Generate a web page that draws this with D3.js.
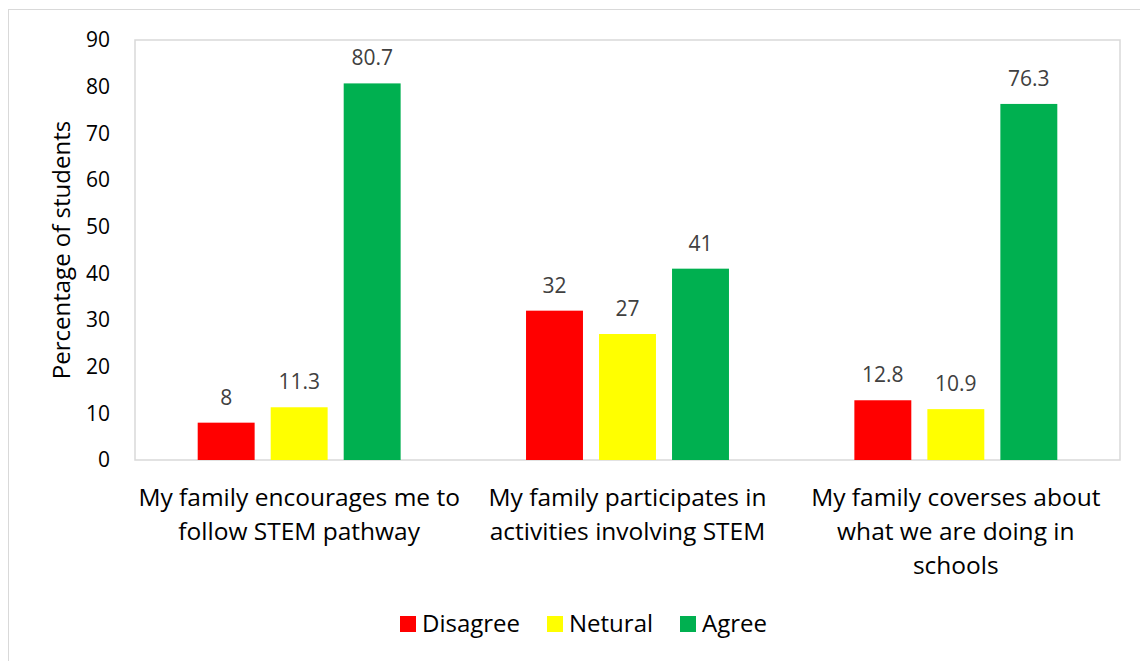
<!DOCTYPE html>
<html>
<head>
<meta charset="utf-8">
<script src="https://cdn.jsdelivr.net/npm/d3@7"></script>
<style>
  body { margin: 0; background: #fff; }
  svg { display: block; font-family: "Open Sans", sans-serif; }
</style>
</head>
<body>
<svg id="chart" width="1140" height="661"></svg>
<script>
'use strict';

const categories = [
    ['My family encourages me to', 'follow STEM pathway'],
    ['My family participates in', 'activities involving STEM'],
    ['My family coverses about', 'what we are doing in', 'schools']
];
const seriesNames = ['Disagree', 'Netural', 'Agree'];
const disagree = [8, 32, 12.8];
const netural = [11.3, 27, 10.9];
const agree = [80.7, 41, 76.3];
const yTicks = [0, 10, 20, 30, 40, 50, 60, 70, 80, 90];
const colors = ['#ff0000', '#ffff00', '#00b050'];

const series = [disagree, netural, agree];
const svg = d3.select('#chart');
const margin = { left: 135, right: 20, top: 40, bottom: 201 };
const width = 1140 - margin.left - margin.right;
const height = 661 - margin.top - margin.bottom;

// outer frame
svg.append('rect')
    .attr('x', 8.5).attr('y', 9.5)
    .attr('width', 1140).attr('height', 700)
    .attr('fill', 'none').attr('stroke', '#d9d9d9');

const g = svg.append('g').attr('transform', `translate(${margin.left},${margin.top})`);

const x0 = d3.scaleBand().domain(d3.range(categories.length)).range([0, width]);
const cluster = 219;
const x1 = d3.scaleBand().domain(d3.range(seriesNames.length))
    .range([x0.bandwidth() / 2 - cluster / 2, x0.bandwidth() / 2 + cluster / 2])
    .paddingInner(0.22).paddingOuter(0.11);
const y = d3.scaleLinear().domain([0, 90]).range([height, 0]);

// plot border
g.append('rect')
    .attr('x', 0).attr('y', 0)
    .attr('width', width).attr('height', height)
    .attr('fill', 'none').attr('stroke', '#d9d9d9').attr('stroke-width', 1.5);

// y axis
const yAxis = g.append('g')
    .call(d3.axisLeft(y).tickValues(yTicks).tickSize(0).tickPadding(25));
yAxis.select('.domain').remove();
yAxis.selectAll('text')
    .attr('font-size', 21)
    .attr('fill', '#000')
    .attr('font-family', '"Open Sans", sans-serif');

g.append('text')
    .attr('transform', `translate(${62 - margin.left},${height / 2}) rotate(-90)`)
    .attr('text-anchor', 'middle')
    .attr('dy', '0.35em')
    .attr('font-size', 24)
    .text('Percentage of students');

// bars
categories.forEach((cat, ci) => {
    const cg = g.append('g').attr('transform', `translate(${x0(ci)},0)`);
    series.forEach((vals, si) => {
        cg.append('rect')
            .attr('x', x1(si))
            .attr('y', y(vals[ci]))
            .attr('width', x1.bandwidth())
            .attr('height', height - y(vals[ci]))
            .attr('fill', colors[si]);
        cg.append('text')
            .attr('x', x1(si) + x1.bandwidth() / 2)
            .attr('y', y(vals[ci]) - 18)
            .attr('text-anchor', 'middle')
            .attr('font-size', 21)
            .attr('fill', '#404040')
            .text(vals[ci]);
    });

    const label = cg.append('text')
        .attr('text-anchor', 'middle')
        .attr('font-size', 24.5)
        .attr('fill', '#000');
    cat.forEach((line, li) => {
        label.append('tspan')
            .attr('x', x0.bandwidth() / 2)
            .attr('y', height + 46 + li * 34)
            .text(line);
    });
});

// legend
const legendX = [400, 547, 680];
const legend = svg.append('g');
seriesNames.forEach((name, i) => {
    legend.append('rect')
        .attr('x', legendX[i]).attr('y', 616)
        .attr('width', 16).attr('height', 16)
        .attr('fill', colors[i]);
    legend.append('text')
        .attr('x', legendX[i] + 22).attr('y', 624)
        .attr('dy', '0.35em')
        .attr('font-size', 24)
        .text(name);
});
</script>
</body>
</html>
